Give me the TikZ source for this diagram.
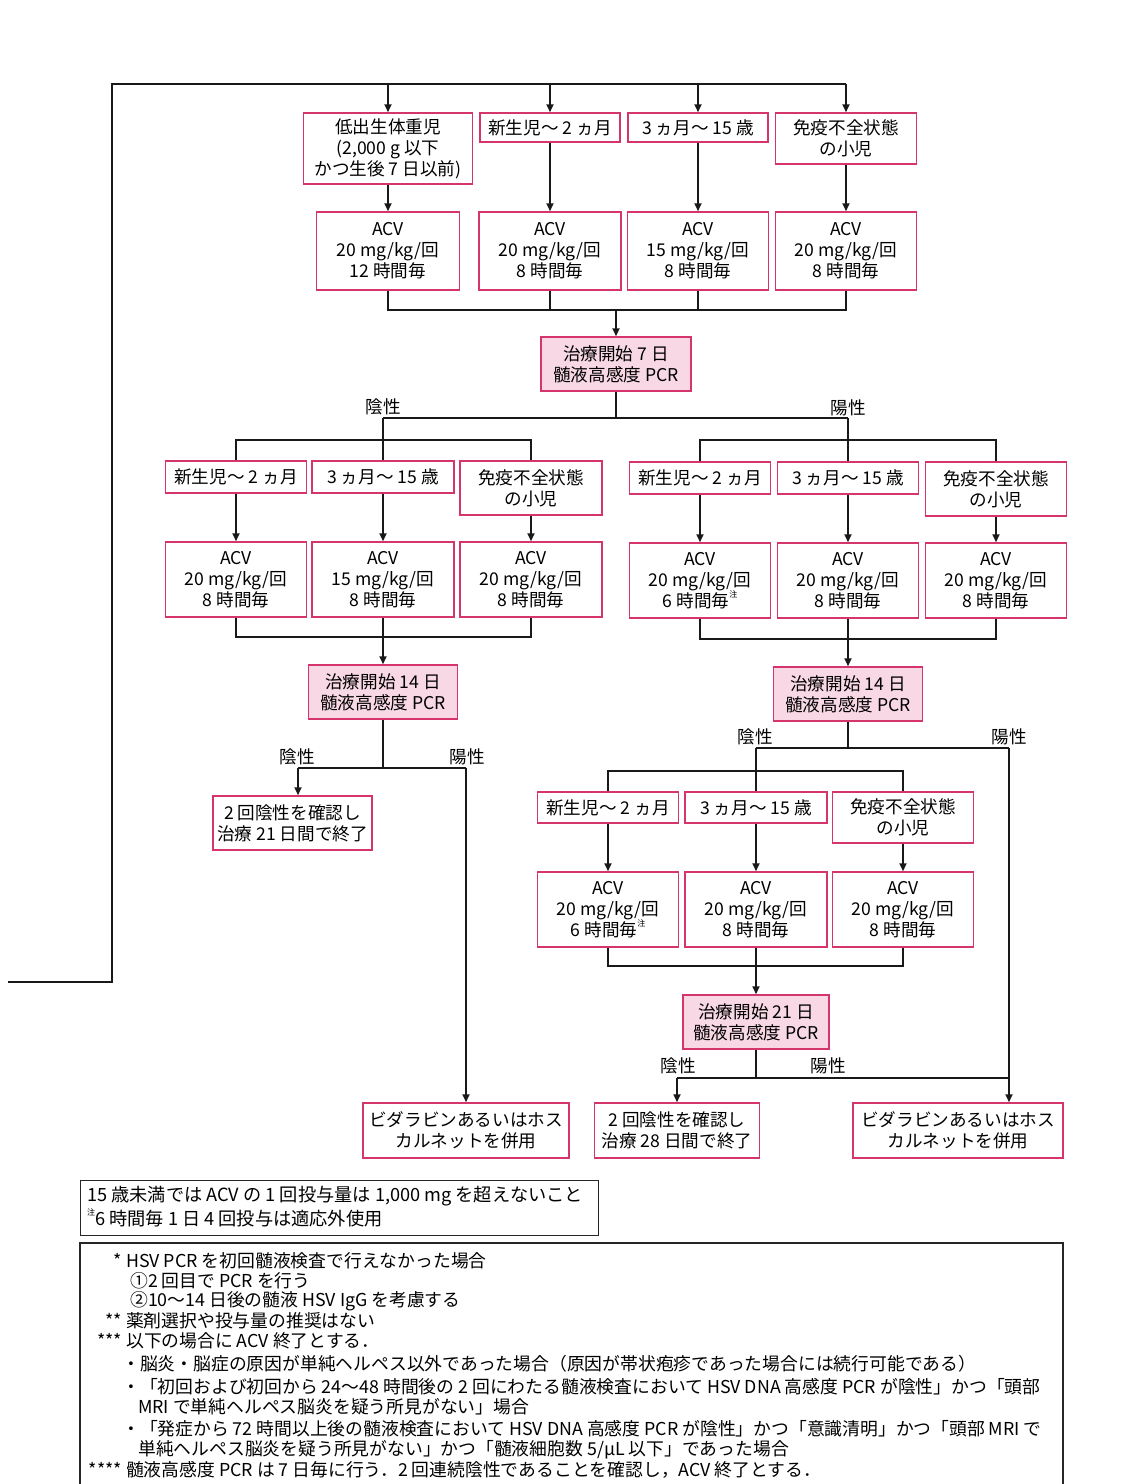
\documentclass[tikz,border=0pt]{standalone}
\usepackage{fontspec}
\setmainfont{Noto Sans CJK JP}
\usetikzlibrary{arrows.meta}
\definecolor{boxpink}{RGB}{214,52,108}
\definecolor{pcrfill}{RGB}{248,216,228}
\newcommand{\boxfont}{\fontsize{17.6}{21}\selectfont}
\newcommand{\legfont}{\fontsize{18.2}{20}\selectfont}
\newcommand{\legfontb}{\fontsize{17.8}{20}\selectfont}
\newcommand{\chu}{\raisebox{0.55em}{\fontsize{8}{8}\selectfont 注}}
\tikzset{
  cbox/.style={draw=boxpink, line width=1.5pt, fill=white, align=center, inner sep=0pt, font=\boxfont},
  pbox/.style={cbox, fill=pcrfill},
  conn/.style={line width=1.8pt, draw=black!90},
  arr/.style={conn, -{Triangle[length=8pt,width=7pt]}},
  lab/.style={font=\boxfont, inner sep=0pt},
  legtext/.style={anchor=west, inner sep=0pt, font=\legfont},
  legtextb/.style={anchor=west, inner sep=0pt, font=\legfontb},
  legframe/.style={draw=black!85, line width=1.2pt, inner sep=0pt},
}
\begin{document}
\begin{tikzpicture}[x=1pt,y=-1pt]
\useasboundingbox (0,0) rectangle (1136,1484);
\fill[white] (0,0) rectangle (1136,1484);

% ---------- row 1 ----------
\node[cbox, minimum width=169, minimum height=71] (a1) at (388,148.5) {低出生体重児\\(2,000 g 以下\\かつ生後 7 日以前)};
\node[cbox, minimum width=140, minimum height=29] (a2) at (550,127.5) {新生児〜 2 ヵ月};
\node[cbox, minimum width=140, minimum height=29] (a3) at (698,127.5) {3 ヵ月〜 15 歳};
\node[cbox, minimum width=141, minimum height=51] (a4) at (846,138.5) {免疫不全状態\\の小児};

\node[cbox, minimum width=143, minimum height=78] (b1) at (388,251) {ACV\\20 mg/kg/回\\12 時間毎};
\node[cbox, minimum width=142, minimum height=78] (b2) at (550,251) {ACV\\20 mg/kg/回\\8 時間毎};
\node[cbox, minimum width=141, minimum height=78] (b3) at (698,251) {ACV\\15 mg/kg/回\\8 時間毎};
\node[cbox, minimum width=141, minimum height=78] (b4) at (846,251) {ACV\\20 mg/kg/回\\8 時間毎};

\node[pbox, minimum width=150, minimum height=54] (p7) at (616,364) {治療開始 7 日\\髄液高感度 PCR};

% loop line
\coordinate (ls) at (8,982);
\coordinate (lc) at (112,84);
\draw[conn] (ls) -| (lc) -- (a4 |- lc);
\foreach \n in {a1,a2,a3,a4} \draw[arr] (\n |- lc) -- (\n.north);
\foreach \i in {1,2,3,4} \draw[arr] (a\i.south) -- (b\i.north);

\coordinate (m1) at (616,310);
\draw[conn] (b1.south) |- (b4 |- m1) -- (b4.south);
\draw[conn] (b2.south) -- (b2 |- m1);
\draw[conn] (b3.south) -- (b3 |- m1);
\draw[arr] (m1) -- (p7.north);

% ---------- day 7 split ----------
\coordinate (s7) at (616,418);
\node[lab] (neg7) at (383,407) {陰性};
\node[lab] (pos7) at (848,408) {陽性};

\node[cbox, minimum width=141, minimum height=32] (c1) at (236,477) {新生児〜 2 ヵ月};
\node[cbox, minimum width=142, minimum height=32] (c2) at (383,477) {3 ヵ月〜 15 歳};
\node[cbox, minimum width=142, minimum height=54] (c3) at (531,488) {免疫不全状態\\の小児};
\node[cbox, minimum width=141, minimum height=75] (d1) at (236,579.5) {ACV\\20 mg/kg/回\\8 時間毎};
\node[cbox, minimum width=142, minimum height=75] (d2) at (383,579.5) {ACV\\15 mg/kg/回\\8 時間毎};
\node[cbox, minimum width=142, minimum height=75] (d3) at (531,579.5) {ACV\\20 mg/kg/回\\8 時間毎};

\node[cbox, minimum width=141, minimum height=32] (e1) at (700,478) {新生児〜 2 ヵ月};
\node[cbox, minimum width=141, minimum height=32] (e2) at (848,478) {3 ヵ月〜 15 歳};
\node[cbox, minimum width=141, minimum height=54] (e3) at (996,489) {免疫不全状態\\の小児};
\node[cbox, minimum width=141, minimum height=75] (f1) at (700,580.5) {ACV\\20 mg/kg/回\\6 時間毎\chu};
\node[cbox, minimum width=141, minimum height=75] (f2) at (848,580.5) {ACV\\20 mg/kg/回\\8 時間毎};
\node[cbox, minimum width=141, minimum height=75] (f3) at (996,580.5) {ACV\\20 mg/kg/回\\8 時間毎};

\draw[conn] (p7.south) -- (s7);
\draw[conn] (c2 |- s7) -- (e2 |- s7);
\draw[conn] (c2 |- s7) -- (c2.north);
\draw[conn] (e2 |- s7) -- (e2.north);
\coordinate (bL) at (383,440);
\coordinate (bR) at (848,440);
\draw[conn] (c1.north) |- (c3 |- bL) -- (c3.north);
\draw[conn] (e1.north) |- (e3 |- bR) -- (e3.north);
\foreach \i in {1,2,3} {\draw[arr] (c\i.south) -- (d\i.north); \draw[arr] (e\i.south) -- (f\i.north);}

% ---------- day 14 left ----------
\node[pbox, minimum width=149, minimum height=54] (p14L) at (383,692) {治療開始 14 日\\髄液高感度 PCR};
\coordinate (mD) at (383,637);
\draw[conn] (d1.south) |- (d3 |- mD) -- (d3.south);
\draw[conn] (d2.south) -- (mD);
\draw[arr] (mD) -- (p14L.north);

\node[cbox, minimum width=159, minimum height=54] (g) at (292.5,823) {2 回陰性を確認し\\治療 21 日間で終了};
\node[cbox, minimum width=206, minimum height=55] (vL) at (466,1130.5) {ビダラビンあるいはホス\\カルネットを併用};
\node[lab] (neg14L) at (297,757) {陰性};
\node[lab] (pos14L) at (467,757) {陽性};
\coordinate (jL) at (383,768);
\coordinate (gL) at (298,768);
\coordinate (vLj) at (466,768);
\draw[conn] (p14L.south) -- (jL);
\draw[conn] (gL) -- (vLj);
\draw[arr] (gL) -- (gL |- g.north);
\draw[arr] (vLj) -- (vL.north);

% ---------- day 14 right ----------
\node[pbox, minimum width=149, minimum height=54] (p14R) at (848,694) {治療開始 14 日\\髄液高感度 PCR};
\coordinate (mF) at (848,639);
\draw[conn] (f1.south) |- (f3 |- mF) -- (f3.south);
\draw[conn] (f2.south) -- (mF);
\draw[arr] (mF) -- (p14R.north);

\node[lab] (neg14R) at (755,737) {陰性};
\node[lab] (pos14R) at (1009,737) {陽性};
\node[cbox, minimum width=141, minimum height=31] (h1) at (608,807.5) {新生児〜 2 ヵ月};
\node[cbox, minimum width=142, minimum height=31] (h2) at (756,807.5) {3 ヵ月〜 15 歳};
\node[cbox, minimum width=141, minimum height=51] (h3) at (903,817.5) {免疫不全状態\\の小児};
\node[cbox, minimum width=141, minimum height=75] (i1) at (608,909.5) {ACV\\20 mg/kg/回\\6 時間毎\chu};
\node[cbox, minimum width=142, minimum height=75] (i2) at (756,909.5) {ACV\\20 mg/kg/回\\8 時間毎};
\node[cbox, minimum width=141, minimum height=75] (i3) at (903,909.5) {ACV\\20 mg/kg/回\\8 時間毎};

\coordinate (jR) at (848,748);
\coordinate (hj) at (756,748);
\coordinate (rj) at (1009,748);
\draw[conn] (p14R.south) -- (jR);
\draw[conn] (hj) -- (rj);
\draw[conn] (hj) -- (h2.north);
\coordinate (bH) at (756,771);
\draw[conn] (h1.north) |- (h3 |- bH) -- (h3.north);
\foreach \i in {1,2,3} \draw[arr] (h\i.south) -- (i\i.north);

% ---------- day 21 ----------
\node[pbox, minimum width=146, minimum height=54] (p21) at (756,1022) {治療開始 21 日\\髄液高感度 PCR};
\coordinate (mI) at (756,966);
\draw[conn] (i1.south) |- (i3 |- mI) -- (i3.south);
\draw[conn] (i2.south) -- (mI);
\draw[arr] (mI) -- (p21.north);

\node[cbox, minimum width=165, minimum height=55] (w28) at (677,1130.5) {2 回陰性を確認し\\治療 28 日間で終了};
\node[cbox, minimum width=210, minimum height=55] (vR) at (958,1130.5) {ビダラビンあるいはホス\\カルネットを併用};
\node[lab] (neg21) at (678,1066) {陰性};
\node[lab] (pos21) at (828,1066) {陽性};
\coordinate (j21) at (756,1078);
\coordinate (n21) at (677,1078);
\coordinate (r21) at (1009,1078);
\draw[conn] (p21.south) -- (j21);
\draw[conn] (n21) -- (r21);
\draw[arr] (n21) -- (w28.north);
\draw[arr] (rj) -- (rj |- vR.north);

% ---------- legends ----------
\node[legframe, minimum width=518, minimum height=55, anchor=north west] (leg1) at (80,1180) {};
\node[legtext] (k1) at (87,1196) {15 歳未満では ACV の 1 回投与量は 1,000 mg を超えないこと};
\node[legtext] (k2) at (87,1218) {\chu 6 時間毎 1 日 4 回投与は適応外使用};

\draw[legframe] (80,1486) |- (1063,1243) -- (1063,1486);
\node[legtextb] (l1) at (126,1261) {\llap{* }HSV PCR を初回髄液検査で行えなかった場合};
\node[legtextb] (l2) at (130,1281) {①2 回目で PCR を行う};
\node[legtextb] (l3) at (130,1301) {②10〜14 日後の髄液 HSV IgG を考慮する};
\node[legtextb] (l4) at (126,1321) {\llap{** }薬剤選択や投与量の推奨はない};
\node[legtextb] (l5) at (126,1341) {\llap{*** }以下の場合に ACV 終了とする．};
\node[legtextb] (l6) at (122,1364) {・脳炎・脳症の原因が単純ヘルペス以外であった場合（原因が帯状疱疹であった場合には続行可能である）};
\node[legtextb] (l7) at (122,1387) {・「初回および初回から 24〜48 時間後の 2 回にわたる髄液検査において HSV DNA 高感度 PCR が陰性」かつ「頭部};
\node[legtextb] (l8) at (138,1407) {MRI で単純ヘルペス脳炎を疑う所見がない」場合};
\node[legtextb] (l9) at (122,1429) {・「発症から 72 時間以上後の髄液検査において HSV DNA 高感度 PCR が陰性」かつ「意識清明」かつ「頭部 MRI で};
\node[legtextb] (l10) at (138,1450) {単純ヘルペス脳炎を疑う所見がない」かつ「髄液細胞数 5/μL 以下」であった場合};
\node[legtextb] (l11) at (126,1470) {\llap{**** }髄液高感度 PCR は 7 日毎に行う．2 回連続陰性であることを確認し，ACV 終了とする．};
\end{tikzpicture}
\end{document}
